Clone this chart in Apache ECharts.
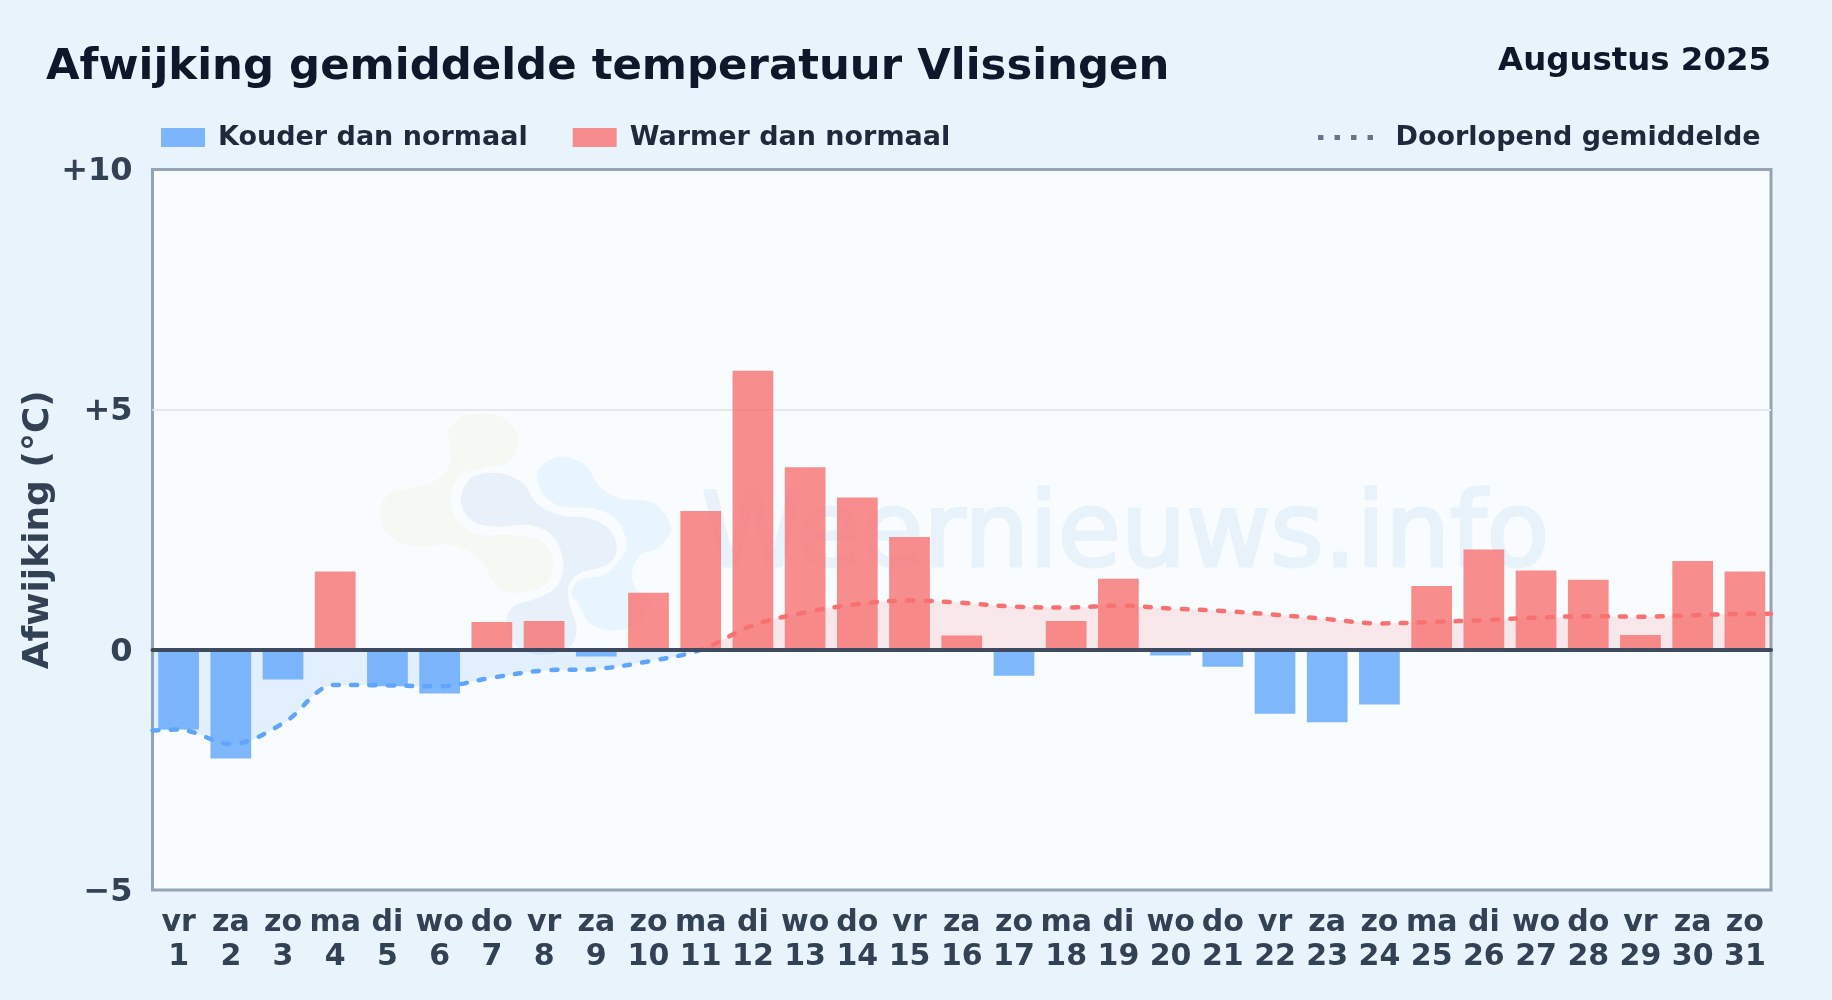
<!DOCTYPE html>
<html>
<head>
<meta charset="utf-8">
<style>html,body{margin:0;padding:0;background:#e9f3fc}#c{width:1832px;height:1000px}</style>
<script src="https://cdn.jsdelivr.net/npm/echarts@6/dist/echarts.min.js"></script>
</head>
<body>
<div id="c"></div>
<script>
const weekdays = ['vr','za','zo','ma','di','wo','do','vr','za','zo','ma','di','wo','do','vr','za','zo','ma','di','wo','do','vr','za','zo','ma','di','wo','do','vr','za','zo'];
const dayNumbers = [1,2,3,4,5,6,7,8,9,10,11,12,13,14,15,16,17,18,19,20,21,22,23,24,25,26,27,28,29,30,31];
const deviation = [-1.66,-2.26,-0.62,1.63,-0.76,-0.91,0.58,0.60,-0.14,1.19,2.89,5.81,3.80,3.17,2.35,0.30,-0.54,0.60,1.48,-0.12,-0.35,-1.33,-1.51,-1.14,1.33,2.09,1.65,1.46,0.31,1.85,1.63];
const runningMean = [-1.66,-1.96,-1.53,-0.73,-0.74,-0.76,-0.58,-0.43,-0.40,-0.24,0.00,0.51,0.78,0.95,1.03,0.98,0.90,0.88,0.92,0.86,0.81,0.73,0.64,0.55,0.58,0.62,0.67,0.70,0.69,0.72,0.75];
const runningX = [0.5,1,2,3,4,5,6,7,8,9,10,11,12,13,14,15,16,17,18,19,20,21,22,23,24,25,26,27,28,29,30,31,31.5];
const runningLine = [-1.68,...runningMean,0.75];
const yTicks = {min:-5,max:10,interval:5};

const categories = weekdays.map((w,i)=>w+'\n'+dayNumbers[i]);
const cold = deviation.map(v=>v<0?v:null);
const warm = deviation.map(v=>v>=0?v:null);
const FONT = '"DejaVu Sans"';
const COL_COLD = 'rgba(96,165,250,0.8)', COL_WARM = 'rgba(248,113,113,0.8)';
const GRID = {left:152.5,top:169.5,right:61,bottom:110};
const zeroStop = yTicks.max/(yTicks.max-yTicks.min);
const split = (warmC,coldC)=>({type:'linear',global:true,x:0,y:GRID.top,x2:0,y2:1000-GRID.bottom,colorStops:[
  {offset:0,color:warmC},{offset:zeroStop,color:warmC},{offset:zeroStop,color:coldC},{offset:1,color:coldC}]});
// decorative watermark outline: closed Catmull-Rom curve through the control points
const closedCurve = pts=>{
  const out=[],n=pts.length;
  for(let i=0;i<n;i++){
    const a=pts[(i-1+n)%n],b=pts[i],c=pts[(i+1)%n],d=pts[(i+2)%n];
    for(let s=0;s<8;s++){
      const t=s/8,t2=t*t,t3=t2*t;
      out.push([0,1].map(k=>0.5*(2*b[k]+(c[k]-a[k])*t+(2*a[k]-5*b[k]+4*c[k]-d[k])*t2+(3*b[k]-a[k]-3*c[k]+d[k])*t3)));
    }
  }
  return out;
};
const LOGO = (pts,fill)=>({type:'polygon',silent:true,
  shape:{points:closedCurve(pts).map(p=>[350+p[0]/3,390+p[1]/3])},style:{fill}});
const DOTS_ICON = 'path://M0 0h5.4v5H0zM16.4 0h5.4v5h-5.4zM32.8 0h5.4v5h-5.4zM49.2 0h5.4v5h-5.4z';

const chart = echarts.init(document.getElementById('c'),null,{renderer:'canvas'});
chart.setOption({
  animation:false,
  backgroundColor:'#e9f3fc',
  textStyle:{fontFamily:FONT},
  title:[
    {text:'Afwijking gemiddelde temperatuur Vlissingen',left:46,top:46,padding:0,
     textStyle:{fontFamily:FONT,fontWeight:'bold',fontSize:43.4,color:'#0f172a'}},
    {text:'Augustus 2025',right:61,top:46,padding:0,
     textStyle:{fontFamily:FONT,fontWeight:'bold',fontSize:32.4,color:'#0f172a'}}
  ],
  legend:[
    {left:161,top:124,padding:0,itemWidth:44,itemHeight:19,itemGap:45,icon:'rect',
     data:['Kouder dan normaal','Warmer dan normaal'],
     textStyle:{fontFamily:FONT,fontWeight:'bold',fontSize:27,color:'#1e293b',padding:[2,0,0,8]}},
    {left:1318,top:124,padding:0,itemWidth:55,itemHeight:5,symbolKeepAspect:false,
     data:[{name:'Doorlopend gemiddelde',icon:DOTS_ICON,itemStyle:{color:'#64748b',opacity:1}}],
     textStyle:{fontFamily:FONT,fontWeight:'bold',fontSize:27,color:'#1e293b',padding:[2,0,0,17.5]}}
  ],
  grid:Object.assign({show:true,backgroundColor:'#f8fcff',borderColor:'#94a3b8',borderWidth:3},GRID),
  xAxis:[
    {type:'category',data:categories,position:'bottom',
     axisLine:{show:false,onZero:false},axisTick:{show:false},splitLine:{show:false},
     axisLabel:{interval:0,margin:16,fontFamily:FONT,fontWeight:'bold',fontSize:30,lineHeight:34,color:'#334155'}},
    {type:'value',min:0.5,max:31.5,z:12,
     axisLine:{show:true,onZero:true,lineStyle:{color:'#3d4a5f',width:4}},
     axisTick:{show:false},axisLabel:{show:false},splitLine:{show:false}}
  ],
  yAxis:{type:'value',min:yTicks.min,max:yTicks.max,interval:yTicks.interval,
    name:'Afwijking (°C)',nameLocation:'middle',nameGap:96,nameMoveOverlap:false,
    nameTextStyle:{fontFamily:FONT,fontWeight:'bold',fontSize:36,color:'#334155'},
    axisLine:{show:false},axisTick:{show:false},
    splitLine:{showMinLine:false,showMaxLine:false,lineStyle:{color:'#e2e8f0',width:2}},
    axisLabel:{margin:20,fontFamily:FONT,fontWeight:'bold',fontSize:32,color:'#334155',
      formatter:v=>'{t|'+(v>0?'+'+v:(v<0?'\u2212'+Math.abs(v):''+v))+'}',
      rich:{t:{fontFamily:FONT,fontWeight:'bold',fontSize:32,color:'#334155',padding:[5,0,0,0]}}}},
  graphic:{z:1,elements:[
    LOGO([[300,110],[350,75],[440,75],[495,120],[500,180],[470,220],[400,235],[340,250],[305,300],[310,370],[370,430],[480,435],[570,450],[610,510],[590,580],[510,610],[440,590],[390,510],[310,465],[200,470],[120,440],[90,370],[120,310],[240,280],[300,220],[295,130]],'#f4f9f4'),
    LOGO([[335,310],[370,260],[450,250],[520,280],[560,340],[630,375],[720,385],[780,420],[800,480],[770,525],[690,550],[655,590],[660,650],[680,710],[660,770],[580,795],[500,770],[470,700],[490,650],[560,625],[620,590],[640,520],[610,440],[540,405],[450,410],[380,400],[340,360]],'#e8f0f9'),
    LOGO([[560,260],[590,215],[650,200],[710,230],[750,290],[810,325],[900,335],[950,380],[960,430],[920,475],[870,495],[845,550],[860,600],[900,640],[860,700],[790,722],[720,700],[685,640],[665,610],[690,570],[760,555],[810,510],[830,460],[800,390],[730,355],[640,350],[585,320]],'#e9f5fe'),
    {type:'text',silent:true,left:700,top:486,
     style:{text:'Weernieuws.info',font:'102.8px "DejaVu Sans"',fill:'#e8f2fa',stroke:'#e8f2fa',lineWidth:3,lineJoin:'round'}}
  ]},
  series:[
    {name:'Kouder dan normaal',type:'bar',xAxisIndex:0,barWidth:'78%',barGap:'-100%',data:cold,itemStyle:{color:COL_COLD},z:10},
    {name:'Warmer dan normaal',type:'bar',xAxisIndex:0,barWidth:'78%',barGap:'-100%',data:warm,itemStyle:{color:COL_WARM},z:10},
    {name:'Doorlopend gemiddelde',type:'line',xAxisIndex:1,smooth:0.35,symbol:'none',z:11,
     data:runningX.map((x,i)=>[x,runningLine[i]]),
     lineStyle:{width:4.5,type:[6,12.3],cap:'round',color:split('#f87171','#60a5fa')},
     areaStyle:{opacity:1,origin:0,color:split('rgba(248,113,113,0.15)','rgba(96,165,250,0.15)')}}
  ]
});
</script>
</body>
</html>
